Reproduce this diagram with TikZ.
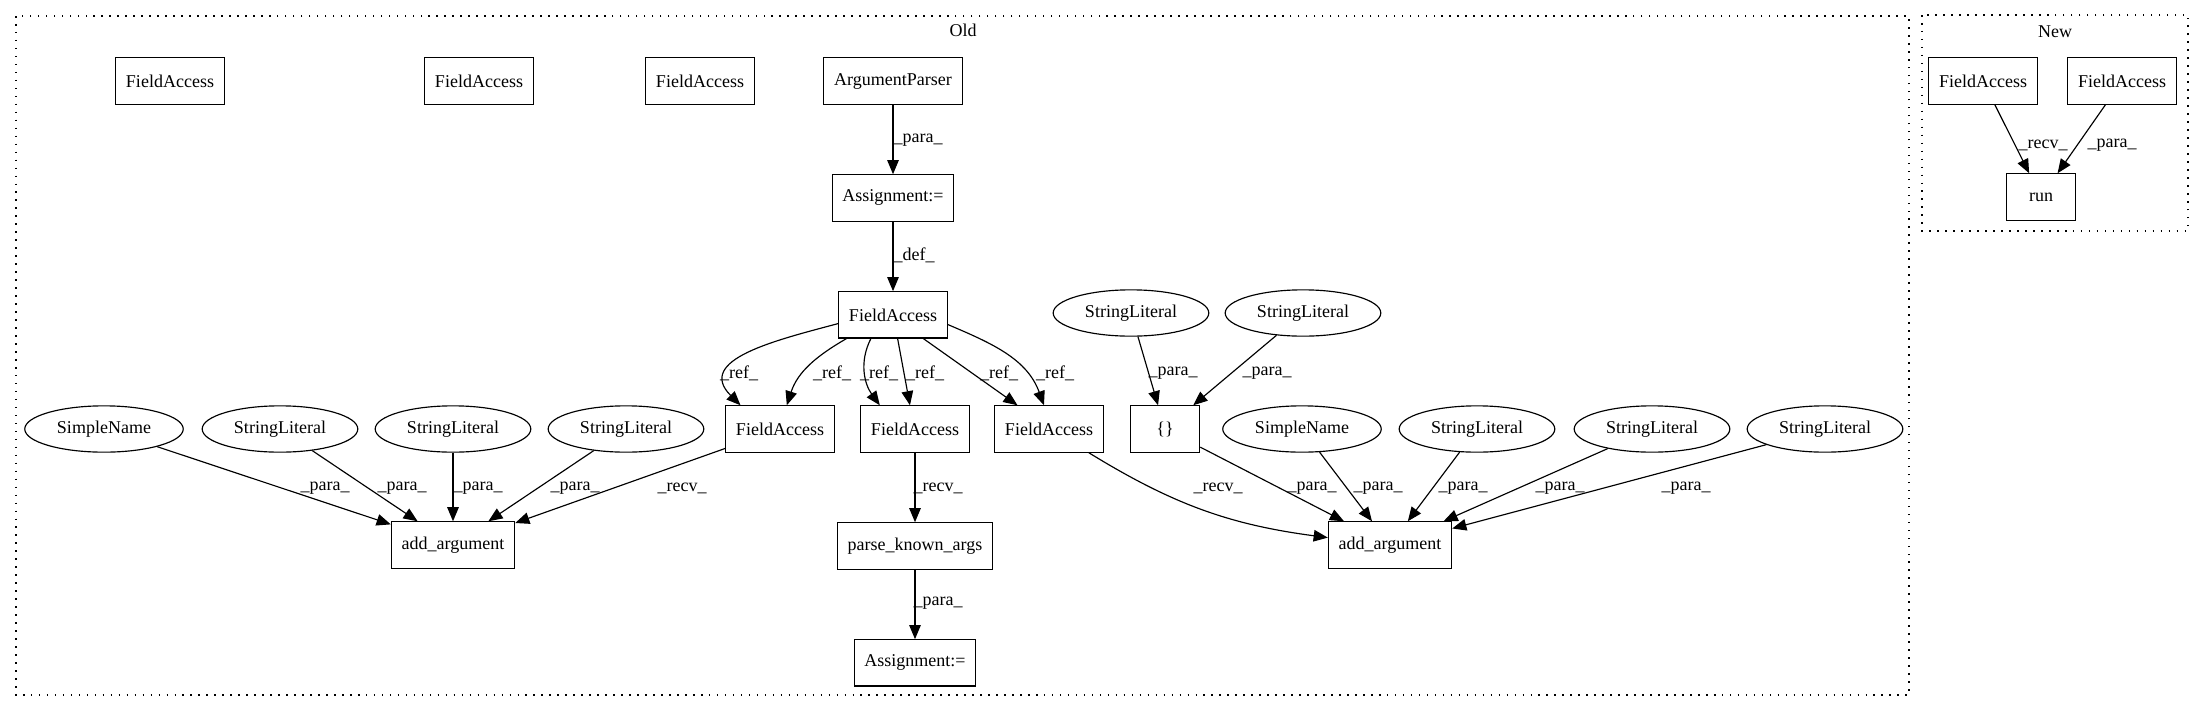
\documentclass[tikz,border=0pt]{standalone}
\usepackage{fontspec}
\setmainfont{Liberation Serif}
\usetikzlibrary{positioning, arrows.meta, shapes.geometric}

\begin{document}
\begin{tikzpicture}[
  x=0.7773pt, y=-0.7773pt,
  node distance=54pt and 20pt,
  font=\fontsize{14pt}{16pt}\selectfont,
  box/.style={draw, line width=0.9pt, inner xsep=8pt, inner ysep=0pt, minimum width=54pt, minimum height=36pt},
  oval/.style={draw, ellipse, line width=0.9pt, inner xsep=7pt, inner ysep=0pt, minimum height=36pt},
  lbl/.style={inner sep=0pt},
  clus/.style={line width=0.9pt, dash pattern=on 1.2pt off 5pt},
  arr/.style={-{Triangle[length=11pt, width=9pt]}, line width=0.9pt}
]
\useasboundingbox (0,0) rectangle (2205,712);
% clusters
\draw[clus] (16,16) rectangle (1909,695);
\node (old) at (963,30) {Old};
\draw[clus] (1922,15) rectangle (2188,231);
\node (new) at (2055,32) {New};
% old
\node[box] (fa1) at (170,81) {FieldAccess};
\node[box] (fa2) at (479,81) {FieldAccess};
\node[box] (fa3) at (700,81) {FieldAccess};
\node[box] (ap) at (893,81) {ArgumentParser};
\node[box, below=of ap] (as1) {Assignment:=};
\node[box, below=of as1] (fam) {FieldAccess};
\node[oval] (slt1) at (1131,313) {StringLiteral};
\node[oval] (slt2) at (1303,313) {StringLiteral};
\node[oval] (snl) at (104,429) {SimpleName};
\node[oval] (sl1) at (280,429) {StringLiteral};
\node[oval] (sl2) at (453,429) {StringLiteral};
\node[oval] (sl3) at (626,429) {StringLiteral};
\node[box] (faa) at (780,429) {FieldAccess};
\node[box] (fab) at (915,429) {FieldAccess};
\node[box] (fac) at (1049,429) {FieldAccess};
\node[box] (brc) at (1165,429) {\{\}};
\node[oval] (snr) at (1302,429) {SimpleName};
\node[oval] (sl4) at (1477,429) {StringLiteral};
\node[oval] (sl5) at (1652,429) {StringLiteral};
\node[oval] (sl6) at (1825,429) {StringLiteral};
\node[box] (addl) at (453,545) {add\_argument};
\node[box, below=of fab] (pka) {parse\_known\_args};
\node[box, below=of pka] (as2) {Assignment:=};
\node[box] (addr) at (1390,545) {add\_argument};
% new
\node[box] (fan1) at (1983,81) {FieldAccess};
\node[box] (fan2) at (2122,81) {FieldAccess};
\node[box] (run) at (2041,197) {run};
% edges
\draw[arr] (ap)--(as1);
\draw[arr] (as1)--(fam);
\draw[arr] (fam.189) to[out=195, in=135, looseness=1.3] (faa.149);
\draw[arr] (fam.207) to[out=210, in=72] (faa.74);
\draw[arr] (fam.227) to[out=243, in=126] (fab.146);
\draw[arr] (fam.281)--(fab.102);
\draw[arr] (fam.322)--(fac.143);
\draw[arr] (fam.350) to[out=337, in=110] (fac.102);
\draw[arr] (slt1)--(brc);
\draw[arr] (slt2)--(brc);
\draw[arr] (snl)--(addl);
\draw[arr] (sl1)--(addl);
\draw[arr] (sl2)--(addl);
\draw[arr] (sl3)--(addl);
\draw[arr] (faa)--(addl);
\draw[arr] (fab)--(pka);
\draw[arr] (pka)--(as2);
\draw[arr] (fac) to[bend right=12] (addr);
\draw[arr] (brc)--(addr);
\draw[arr] (snr)--(addr);
\draw[arr] (sl4)--(addr);
\draw[arr] (sl5)--(addr);
\draw[arr] (sl6)--(addr);
\draw[arr] (fan1)--(run);
\draw[arr] (fan2)--(run);
% edge labels
\node[lbl] (lap) at (918,140) {\_para\_};
\node[lbl] (ldef) at (914,255) {\_def\_};
\node[lbl] (lr1) at (739,373) {\_ref\_};
\node[lbl] (lr2) at (832,373) {\_ref\_};
\node[lbl] (lr3) at (879,373) {\_ref\_};
\node[lbl] (lr4) at (925,373) {\_ref\_};
\node[lbl] (lr5) at (999,373) {\_ref\_};
\node[lbl] (lr6) at (1055,373) {\_ref\_};
\node[lbl] (lb1) at (1173,373) {\_para\_};
\node[lbl] (lb2) at (1267,373) {\_para\_};
\node[lbl] (ll1) at (325,488) {\_para\_};
\node[lbl] (ll2) at (402,488) {\_para\_};
\node[lbl] (ll3) at (478,488) {\_para\_};
\node[lbl] (ll4) at (575,488) {\_para\_};
\node[lbl] (ll5) at (682,488) {\_recv\_};
\node[lbl] (lpk) at (938,488) {\_recv\_};
\node[lbl] (las) at (938,603) {\_para\_};
\node[lbl] (lq1) at (1218,488) {\_recv\_};
\node[lbl] (lq2) at (1312,488) {\_para\_};
\node[lbl] (lq3) at (1378,488) {\_para\_};
\node[lbl] (lq4) at (1463,488) {\_para\_};
\node[lbl] (lq5) at (1560,488) {\_para\_};
\node[lbl] (lq6) at (1686,488) {\_para\_};
\node[lbl] (ln1) at (2043,145) {\_recv\_};
\node[lbl] (ln2) at (2112,145) {\_para\_};
\end{tikzpicture}
\end{document}
